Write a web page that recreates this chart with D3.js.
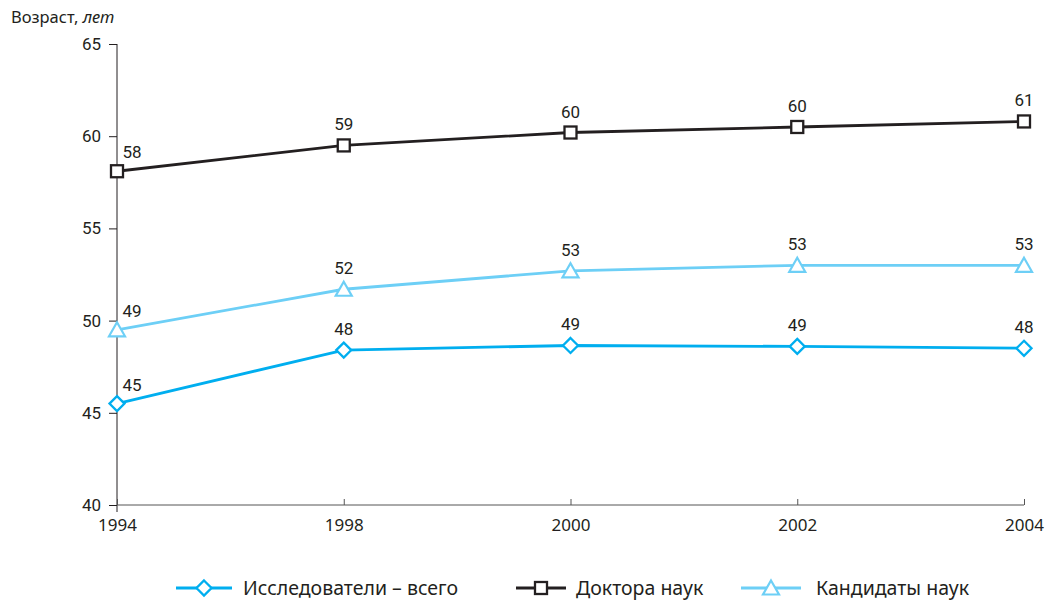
<!DOCTYPE html>
<html><head><meta charset="utf-8">
<script src="https://cdn.jsdelivr.net/npm/d3@7"></script>
<style>
body{margin:0;background:#fff;}
svg{display:block;}
.num{font-family:Roboto,"Liberation Sans",sans-serif;font-size:17px;fill:#231f20;}
.txt{font-family:"Noto Sans","Open Sans",sans-serif;fill:#231f20;}
</style></head>
<body>
<svg id="c" width="1047" height="602"></svg>
<script>
const years = ["1994","1998","2000","2002","2004"];
const yTicks = [40,45,50,55,60,65];
const researchers = [45.5,48.4,48.65,48.6,48.5];
const doctors = [58.1,59.5,60.2,60.5,60.8];
const candidates = [49.5,51.7,52.7,53.0,53.0];
const researchersLbl = ["45","48","49","49","48"];
const doctorsLbl = ["58","59","60","60","61"];
const candidatesLbl = ["49","52","53","53","53"];
const seriesNames = ["Исследователи – всего","Доктора наук","Кандидаты наук"];

const svg = d3.select("#c");
const x = d3.scalePoint().domain(years).range([117,1024]);
const y = d3.scaleLinear().domain([40,65]).range([505,44]);

// y axis
const ya = svg.append("g").attr("transform","translate(117,0)")
  .call(d3.axisLeft(y).tickValues(yTicks).tickSize(8).tickPadding(8));
ya.select(".domain").attr("stroke","#231f20").attr("d","M0,44V512");
ya.selectAll(".tick line").attr("stroke","#231f20");
ya.selectAll(".tick text").attr("class","num").attr("font-size",null).attr("font-family",null).attr("fill",null);

// x axis
const xa = svg.append("g").attr("transform","translate(0,505)")
  .call(d3.axisBottom(x).tickSize(-6).tickPadding(14));
xa.select(".domain").attr("stroke","#555").attr("d","M117,0H1024");
xa.selectAll(".tick line").attr("stroke","#555");
xa.selectAll(".tick text").attr("class","txt").attr("font-size",17).attr("font-family",null).attr("fill",null).attr("dy","0.71em");

svg.append("text").attr("class","txt").attr("x",11).attr("y",23).attr("font-size",16.5)
  .text("Возраст, ").append("tspan").attr("font-style","italic").text("лет");

const line = d3.line().x((d,i)=>x(years[i])).y(d=>y(d));

function marker(g, type, color, cx, cy){
  if(type==="diamond"){
    g.append("path").attr("d",`M${cx},${cy-7.5}L${cx+7.5},${cy}L${cx},${cy+7.5}L${cx-7.5},${cy}Z`)
      .attr("fill","#fff").attr("stroke",color).attr("stroke-width",2.3);
  } else if(type==="square"){
    g.append("rect").attr("x",cx-6).attr("y",cy-6).attr("width",12).attr("height",12)
      .attr("fill","#fff").attr("stroke",color).attr("stroke-width",2.3);
  } else {
    g.append("path").attr("d",`M${cx},${cy-7.5}L${cx+8},${cy+6.5}L${cx-8},${cy+6.5}Z`)
      .attr("fill","#fff").attr("stroke",color).attr("stroke-width",2.2);
  }
}

const series = [
  {vals:doctors,lbl:doctorsLbl,color:"#231f20",type:"square",w:2.8},
  {vals:candidates,lbl:candidatesLbl,color:"#6dcff6",type:"triangle",w:2.8},
  {vals:researchers,lbl:researchersLbl,color:"#00aeef",type:"diamond",w:2.8}
];
series.forEach(s=>{
  const g = svg.append("g");
  g.append("path").attr("d",line(s.vals)).attr("fill","none").attr("stroke",s.color).attr("stroke-width",s.w);
  s.vals.forEach((v,i)=>{
    marker(g,s.type,s.color,x(years[i]),y(v));
    g.append("text").attr("class","num")
      .attr("x",x(years[i]) + (i===0?15:0)).attr("y",y(v)-(i===0?13:15))
      .attr("text-anchor","middle").text(s.lbl[i]);
  });
});

// legend
const leg = [
  {name:seriesNames[0],color:"#00aeef",type:"diamond",x1:176,x2:232,tx:243},
  {name:seriesNames[1],color:"#231f20",type:"square",x1:516,x2:566,tx:576},
  {name:seriesNames[2],color:"#6dcff6",type:"triangle",x1:741,x2:801,tx:816}
];
leg.forEach(l=>{
  const g = svg.append("g");
  const ly = 588;
  g.append("line").attr("x1",l.x1).attr("x2",l.x2).attr("y1",ly).attr("y2",ly).attr("stroke",l.color).attr("stroke-width",3);
  marker(g,l.type,l.color,(l.x1+l.x2)/2,ly);
  g.append("text").attr("class","txt").attr("x",l.tx).attr("y",595).attr("font-size",19.5).text(l.name);
});
</script>
</body></html>
